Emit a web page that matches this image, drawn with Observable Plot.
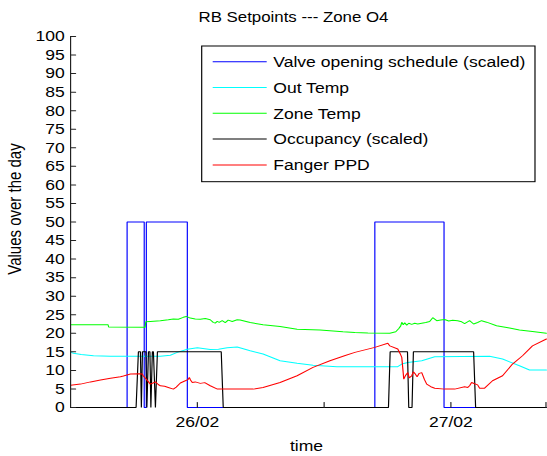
<!DOCTYPE html>
<html><head><meta charset="utf-8">
<script src="https://cdn.jsdelivr.net/npm/d3@7"></script>
<script src="https://cdn.jsdelivr.net/npm/@observablehq/plot@0.6"></script>
<style>
html,body{margin:0;padding:0;background:#fff;}
#chart{width:547px;height:456px;overflow:hidden;}
#chart svg{display:block;transform-origin:0 0;max-width:none;}
</style></head><body><div id="chart"></div>
<script>
// ---- texts ----
const titleText = "RB Setpoints --- Zone O4";
const xLabel = "time";
const yLabel = "Values over the day";
const seriesNames = ["Valve opening schedule (scaled)", "Out Temp", "Zone Temp", "Occupancy (scaled)", "Fanger PPD"];
const seriesColors = ["#0000ff", "#00ffff", "#00ff00", "#000000", "#ff0000"];

// ---- ticks (x in hours since 25/02 00:00) ----
const xTicks = [24, 36, 48, 57];
const xTickLabels = ["26/02", "", "27/02", ""];
const yTicks = [0, 5, 10, 15, 20, 25, 30, 35, 40, 45, 50, 55, 60, 65, 70, 75, 80, 85, 90, 95, 100];
const xDomain = [12, 57.04];

// ---- series ----
const valveT = [12, 17.35, 17.35, 18.97, 18.97, 19.17, 19.17, 23.05, 23.05, 40.8, 40.8, 47.35, 47.35, 57.04];
const valveV = [0, 0, 50, 50, 0, 0, 50, 50, 0, 0, 50, 50, 0, 0];

const outT = [12.0, 12.28, 13.0, 14.17, 15.78, 20.5, 21.44, 22.1, 23.05, 24.0, 25.22, 26.0, 26.83, 27.77, 29.0, 30.22, 31.83, 33.44, 34.95, 37.21, 42.97, 43.35, 43.92, 45.24, 46.47, 51.66, 52.89, 54.49, 55.44, 57.04];
const outV = [14.85, 14.6, 14.3, 13.95, 13.8, 13.8, 14.1, 14.85, 15.7, 16.1, 15.6, 15.7, 16.1, 16.3, 15.3, 14.4, 12.6, 11.9, 11.4, 11.0, 11.0, 11.7, 12.1, 12.6, 13.7, 13.8, 13.05, 11.25, 10.1, 10.1];

const zoneT = [12.0, 14.0, 15.55, 15.6, 19.05, 19.12, 19.55, 20.5, 21.25, 21.73, 22.2, 22.67, 22.95, 23.33, 23.8, 24.28, 24.75, 25.22, 25.5, 25.69, 25.88, 26.07, 26.35, 26.64, 26.92, 27.3, 27.77, 28.05, 29.0, 30.22, 31.83, 33.44, 35.61, 37.78, 38.91, 40.14, 42.22, 42.78, 43.07, 43.25, 43.35, 43.49, 43.63, 43.82, 44.01, 44.29, 44.58, 44.86, 45.24, 45.62, 45.99, 46.28, 46.66, 47.03, 47.41, 47.79, 48.17, 48.64, 49.02, 49.3, 49.77, 50.15, 50.53, 50.9, 51.38, 52.32, 53.55, 54.49, 55.72, 57.04];
const zoneV = [22.3, 22.3, 22.3, 21.7, 21.6, 23.1, 23.2, 23.4, 23.65, 23.85, 23.8, 24.3, 24.55, 24.1, 23.85, 23.8, 24.0, 23.65, 22.95, 22.75, 23.2, 22.95, 23.4, 22.85, 23.55, 23.2, 23.65, 23.6, 22.9, 22.3, 21.8, 21.1, 20.9, 20.4, 20.2, 20.1, 20.0, 20.4, 21.3, 22.0, 22.95, 22.3, 22.8, 22.2, 22.7, 22.4, 22.7, 22.5, 22.7, 22.9, 23.2, 24.2, 23.4, 23.6, 23.7, 23.3, 23.5, 23.4, 23.1, 22.6, 23.4, 22.5, 22.9, 23.4, 23.0, 22.05, 21.4, 20.9, 20.5, 20.0];

const occT = [12, 18.2, 18.42, 18.61, 18.7, 18.8, 19.13, 19.22, 19.37, 19.51, 19.6, 19.74, 19.84, 20.03, 20.22, 26.26, 26.45, 42.09, 42.25, 43.89, 44.01, 44.32, 44.45, 50.15, 50.34, 57.04];
const occV = [0, 0, 15, 15, 0, 15, 15, 0, 15, 15, 0, 15, 15, 0, 15, 15, 0, 0, 15, 15, 0, 0, 15, 15, 0, 0];

const ppdT = [12.0, 12.94, 13.89, 14.83, 15.78, 16.72, 17.0, 17.67, 18.5, 18.8, 18.89, 19.2, 19.55, 19.8, 20.03, 20.3, 20.5, 20.9, 21.25, 21.73, 22.0, 22.39, 22.86, 23.1, 23.24, 23.35, 23.52, 23.8, 24.28, 24.7, 25.22, 25.9, 29.28, 30.22, 31.83, 33.44, 34.95, 36.55, 38.0, 38.91, 40.8, 42.03, 42.22, 42.97, 43.2, 43.35, 43.54, 43.7, 43.92, 44.05, 44.29, 44.45, 44.58, 44.8, 45.0, 45.24, 45.5, 45.71, 46.1, 46.47, 47.41, 48.36, 49.3, 49.6, 49.77, 49.96, 50.24, 50.53, 50.72, 51.19, 51.94, 52.89, 53.83, 54.78, 55.72, 57.04];
const ppdV = [6.0, 6.3, 6.9, 7.4, 7.9, 8.3, 8.5, 9.0, 9.1, 9.0, 8.5, 7.5, 6.3, 6.6, 6.9, 6.2, 5.85, 5.7, 5.4, 4.95, 5.5, 6.6, 7.2, 7.5, 8.1, 7.4, 6.75, 6.9, 6.5, 6.7, 5.85, 4.95, 4.95, 5.4, 6.75, 8.55, 10.8, 12.6, 14.0, 14.85, 16.2, 17.3, 16.6, 15.75, 14.5, 13.5, 7.65, 8.6, 9.4, 8.0, 8.55, 9.6, 9.2, 8.3, 9.2, 9.4, 7.5, 6.3, 5.6, 5.2, 4.95, 4.95, 5.6, 5.4, 5.85, 6.75, 6.4, 6.1, 5.2, 5.2, 7.2, 8.55, 11.7, 13.95, 16.6, 18.45];

// ---- build tables ----
const toRows = (t, v) => t.map((d, i) => ({t: d, v: v[i]}));
const seriesRows = [toRows(valveT, valveV), toRows(outT, outV), toRows(zoneT, zoneV), toRows(occT, occV), toRows(ppdT, ppdV)];

const S = 1.17;            // horizontal stretch of the reference raster
const W = 547 / S;
const FONT = "'Liberation Sans', Arial, Helvetica, sans-serif";
const tickShape = {draw(ctx, l) { ctx.moveTo(0, 0); ctx.lineTo(0, -l); }};

const chart = Plot.plot({
  width: W, height: 456,
  marginLeft: 70 / S, marginRight: 1, marginTop: 36, marginBottom: 49,
  style: {fontFamily: FONT, fontSize: "15px", background: "white", color: "black"},
  x: {type: "linear", domain: xDomain},
  y: {domain: [0, 100]},
  marks: [
    Plot.axisY(yTicks, {tickSize: 0, tickPadding: 5, label: null}),
    Plot.axisX(xTicks, {tickSize: 0, tickPadding: 9, label: null,
      tickFormat: d => xTickLabels[xTicks.indexOf(d)]}),
    ...seriesRows.map((rows, i) => Plot.line(rows, {x: "t", y: "v", stroke: seriesColors[i], strokeWidth: 1, strokeLinejoin: "miter"})),
    Plot.ruleX([xDomain[0]], {stroke: "#222", strokeWidth: 1}),
    Plot.vector(xTicks, {x: d => d, frameAnchor: "bottom", anchor: "start", length: 5, rotate: 0, shape: tickShape, stroke: "#222", strokeWidth: 1}),
    Plot.vector(yTicks, {y: d => d, frameAnchor: "left", anchor: "start", length: 5 / S, rotate: 90, shape: tickShape, stroke: "#222", strokeWidth: 1})
  ]
});
chart.style.transform = `scaleX(${S})`;
document.getElementById("chart").appendChild(chart);

// ---- title, axis labels, legend ----
const svg = d3.select(chart);
const txt = (x, y, s, anchor, size) => svg.append("text").attr("x", x / S).attr("y", y)
  .attr("text-anchor", anchor).attr("fill", "black").style("font-family", FONT).style("font-size", size + "px").text(s);
txt(293.5, 22.5, titleText, "middle", 14.4);
txt(306.5, 451.5, xLabel, "middle", 15);
svg.append("text").attr("transform", `translate(${20.9 / S},209) rotate(-90)`)
  .attr("text-anchor", "middle").attr("fill", "black").style("font-family", FONT).style("font-size", "15px").text(yLabel);

const lg = svg.append("g");
lg.append("rect").attr("x", 201.7 / S).attr("y", 46).attr("width", (535 - 201.7) / S).attr("height", 135.7)
  .attr("fill", "white").attr("stroke", "black").attr("stroke-width", 1);
seriesNames.forEach((name, i) => {
  const y = 61.7 + i * 25.8;
  lg.append("line").attr("x1", 212.7 / S).attr("x2", 266.7 / S).attr("y1", y).attr("y2", y)
    .attr("stroke", seriesColors[i]).attr("stroke-width", 1);
  txt(273.3, y + 5.4, name, "start", 15);
});
</script></body></html>
